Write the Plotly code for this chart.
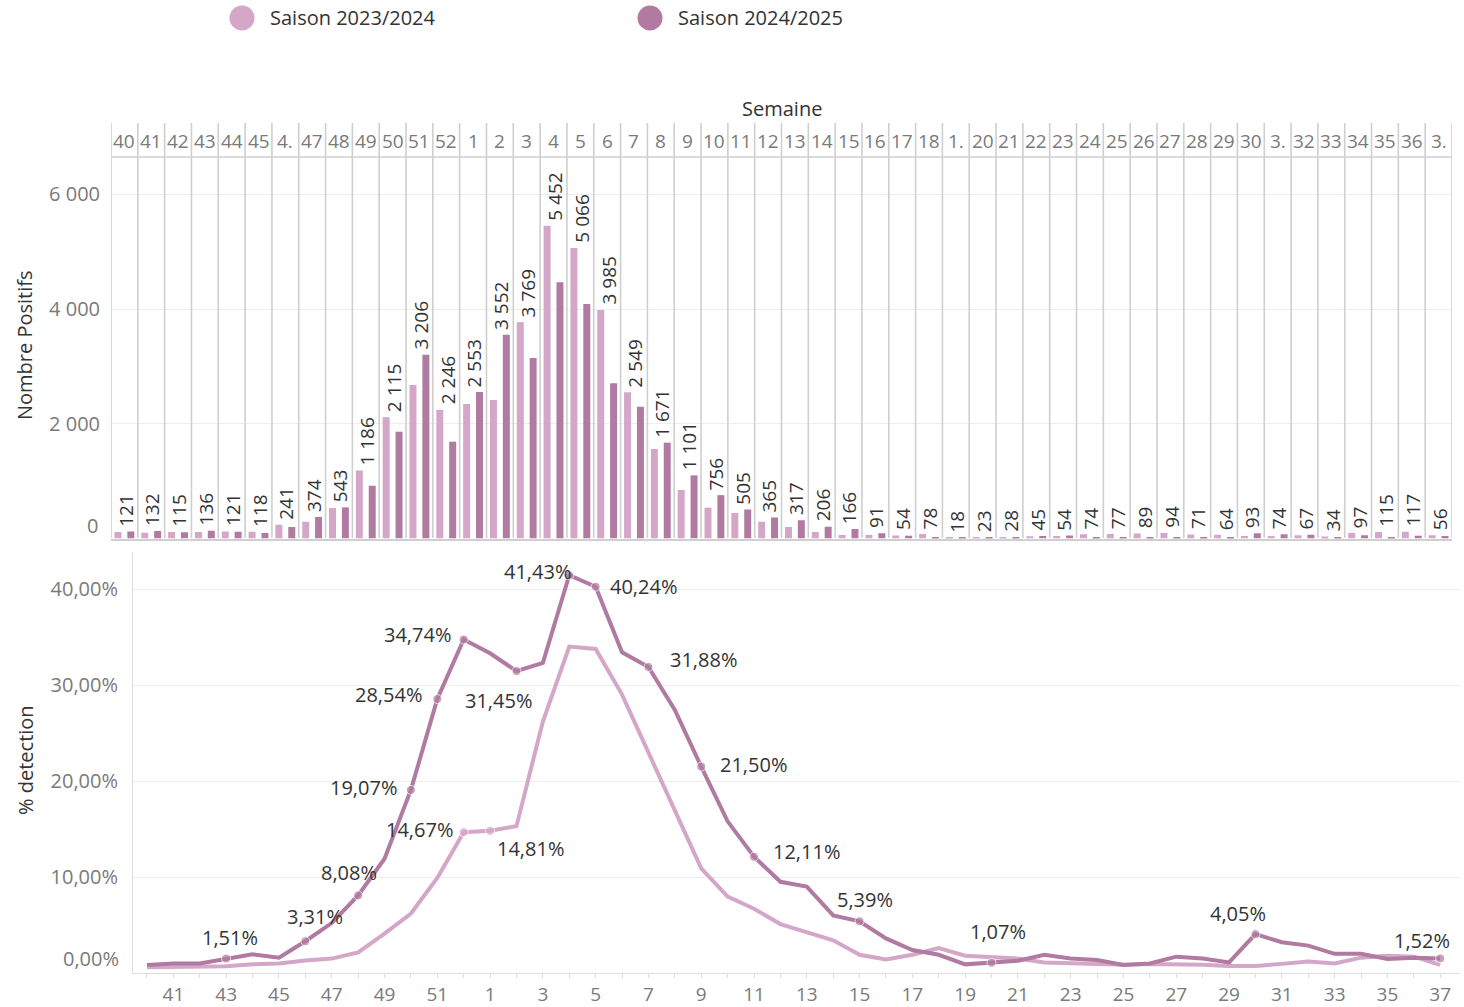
import plotly.graph_objects as go

W, H = 1464, 1007

# ---------------- data ----------------
weeks = [40, 41, 42, 43, 44, 45, 46, 47, 48, 49, 50, 51, 52,
         1, 2, 3, 4, 5, 6, 7, 8, 9, 10, 11, 12, 13, 14, 15, 16, 17, 18, 19, 20,
         21, 22, 23, 24, 25, 26, 27, 28, 29, 30, 31, 32, 33, 34, 35, 36, 37]

header_labels = ["40", "41", "42", "43", "44", "45", "4.", "47", "48", "49", "50", "51", "52",
                 "1", "2", "3", "4", "5", "6", "7", "8", "9", "10", "11", "12", "13", "14",
                 "15", "16", "17", "18", "1.", "20", "21", "22", "23", "24", "25", "26", "27",
                 "28", "29", "30", "3.", "32", "33", "34", "35", "36", "3."]

series_names = ["Saison 2023/2024", "Saison 2024/2025"]

positifs_2324 = [112, 100, 115, 112, 121, 118, 241, 290, 530, 1186, 2115, 2677, 2246,
                 2345, 2415, 3769, 5452, 5066, 3985, 2549, 1561, 846, 538, 444, 293, 200,
                 113, 61, 60, 54, 78, 18, 23, 28, 38, 45, 74, 77, 89, 94, 71, 64, 45, 45,
                 55, 34, 97, 115, 117, 56]

positifs_2425 = [121, 132, 110, 136, 116, 95, 200, 374, 543, 920, 1862, 3206, 1688,
                 2553, 3552, 3147, 4467, 4089, 2706, 2299, 1671, 1101, 756, 505, 365, 317,
                 206, 166, 91, 50, 20, 15, 10, 12, 45, 54, 15, 15, 15, 15, 15, 15, 93, 74,
                 67, 15, 55, 15, 50, 45]

detection_2324 = [0.6, 0.65, 0.7, 0.7, 0.9, 1.0, 1.3, 1.5, 2.15, 4.1, 6.2, 9.9, 14.67,
                  14.81, 15.3, 26.2, 34.0, 33.75, 29.0, 22.9, 16.8, 10.9, 7.95, 6.7, 5.1, 4.3,
                  3.4, 1.9, 1.4, 1.9, 2.6, 1.8, 1.6, 1.5, 1.1, 1.0, 1.0, 0.85, 0.95, 0.95,
                  0.85, 0.73, 0.73, 0.95, 1.2, 1.0, 1.6, 1.8, 1.7, 0.85]

detection_2425 = [0.83, 1.0, 1.0, 1.51, 1.94, 1.6, 3.31, 5.2, 8.08, 11.9, 19.07, 28.54, 34.74,
                  33.3, 31.45, 32.3, 41.43, 40.24, 33.4, 31.88, 27.4, 21.50, 15.8, 12.11, 9.5,
                  9.0, 6.0, 5.39, 3.6, 2.4, 1.9, 0.9, 1.07, 1.28, 1.9, 1.5, 1.35, 0.83, 1.0,
                  1.7, 1.5, 1.1, 4.05, 3.2, 2.85, 2.0, 2.0, 1.45, 1.6, 1.52]

# ---------------- style ----------------
C_LIGHT = "#d4a6c8"
C_DARK = "#b07aa1"
GRID = "#eeeeee"
RULE = "#cfcfcf"
TXT = "#333333"
TICK = "#7a7a7a"
FONT = "Open Sans"

# label placement (text-centre offset from the point, in screen px; +dy = down)
label_offsets_2425 = {43: (4, -21), 46: (10, -25), 48: (-9, -23), 50: (-47, -2),
                      51: (-49, -5), 52: (-46, -5), 2: (-18, 29), 4: (-32, -4),
                      5: (48, 0), 7: (55, -7), 9: (52, -2), 11: (52, -5),
                      15: (5, -22), 20: (6, -31), 30: (-17, -21), 37: (-18, -18)}
label_offsets_2324 = {52: (-44, -3), 1: (40, 18)}


def fx(px):
    return px / W


def fy(py):
    return 1 - py / H


def pct_txt(v):
    return f"{v:.2f}".replace(".", ",") + "%"


def thousands(v):
    return f"{v:,}".replace(",", " ")


idx = list(range(len(weeks)))

fig = go.Figure()

# ---------- bars ----------
fig.add_trace(go.Bar(x=idx, y=positifs_2324, width=0.26, offset=-0.37,
                     marker=dict(color=C_LIGHT, line=dict(width=0)),
                     xaxis="x", yaxis="y", name=series_names[0], showlegend=False))
fig.add_trace(go.Bar(x=idx, y=positifs_2425, width=0.26, offset=0.11,
                     marker=dict(color=C_DARK, line=dict(width=0)),
                     xaxis="x", yaxis="y", name=series_names[1], showlegend=False))

# ---------- lines ----------
sizes_2324 = [9 if w in label_offsets_2324 else 0 for w in weeks]
sizes_2425 = [9 if w in label_offsets_2425 else 0 for w in weeks]
fig.add_trace(go.Scatter(x=idx, y=detection_2324, mode="lines+markers",
                         line=dict(color=C_LIGHT, width=4),
                         marker=dict(size=sizes_2324, color=C_LIGHT),
                         xaxis="x2", yaxis="y2", showlegend=False, cliponaxis=False))
fig.add_trace(go.Scatter(x=idx, y=detection_2425, mode="lines+markers",
                         line=dict(color=C_DARK, width=4),
                         marker=dict(size=sizes_2425, color=C_DARK),
                         xaxis="x2", yaxis="y2", showlegend=False, cliponaxis=False))

ann = []
shapes = []

# bar value labels (max of the two seasons per week)
for i in idx:
    v = max(positifs_2324[i], positifs_2425[i])
    ann.append(dict(x=i + 0.05, y=v, xref="x", yref="y", text=thousands(v),
                    textangle=-90, showarrow=False, xanchor="center", yanchor="bottom",
                    yshift=3, font=dict(family=FONT, size=19, color=TXT)))

# line labels
for series, offs in ((detection_2425, label_offsets_2425), (detection_2324, label_offsets_2324)):
    for w, (dx, dy) in offs.items():
        i = weeks.index(w)
        ann.append(dict(x=i, y=series[i], xref="x2", yref="y2", text=pct_txt(series[i]),
                        showarrow=False, xanchor="center", yanchor="middle",
                        xshift=dx, yshift=-dy, font=dict(family=FONT, size=20, color=TXT)))

# header labels
for i, lab in enumerate(header_labels):
    ann.append(dict(x=i, y=fy(141), xref="x", yref="paper", text=lab, showarrow=False,
                    xanchor="center", yanchor="middle",
                    font=dict(family=FONT, size=19, color=TICK)))

# column separators
for k in range(len(weeks) + 1):
    shapes.append(dict(type="line", xref="x", yref="paper", x0=k - 0.5, x1=k - 0.5,
                       y0=fy(538), y1=fy(123), line=dict(color=RULE, width=1.6), layer="above"))
shapes.append(dict(type="line", xref="paper", yref="paper", x0=fx(111), x1=fx(1452),
                   y0=fy(157), y1=fy(157), line=dict(color=RULE, width=1.6)))

# titles
ann.append(dict(x=fx(782), y=fy(108), xref="paper", yref="paper", text="Semaine",
                xanchor="center", yanchor="middle",
                showarrow=False, font=dict(family=FONT, size=20, color=TXT)))
ann.append(dict(x=fx(25), y=fy(345), xref="paper", yref="paper", text="Nombre Positifs",
                xanchor="center", yanchor="middle",
                textangle=-90, showarrow=False, font=dict(family=FONT, size=20, color=TXT)))
ann.append(dict(x=fx(25), y=fy(760), xref="paper", yref="paper", text="% detection",
                xanchor="center", yanchor="middle",
                textangle=-90, showarrow=False, font=dict(family=FONT, size=20, color=TXT)))
# zero tick labels (drawn lifted as in the original)
ann.append(dict(x=fx(100), y=fy(525), xref="paper", yref="paper", text="0",
                showarrow=False, xanchor="right", yanchor="middle",
                font=dict(family=FONT, size=20, color=TICK)))
ann.append(dict(x=fx(121), y=fy(958), xref="paper", yref="paper", text="0,00%",
                showarrow=False, xanchor="right", yanchor="middle",
                font=dict(family=FONT, size=20, color=TICK)))

# legend
for name, col, cx in ((series_names[0], C_LIGHT, 242), (series_names[1], C_DARK, 650)):
    shapes.append(dict(type="circle", xref="paper", yref="paper",
                       x0=fx(cx - 12.5), x1=fx(cx + 12.5), y0=fy(30.5), y1=fy(5.5),
                       fillcolor=col, line=dict(width=0)))
    ann.append(dict(x=fx(cx + 26), y=fy(18), xref="paper", yref="paper", text=name,
                    showarrow=False, xanchor="left", yanchor="middle",
                    font=dict(family=FONT, size=20, color=TXT)))

odd_ticks = [str(w) if w % 2 == 1 else "" for w in weeks]

fig.update_layout(
    width=W, height=H, margin=dict(l=0, r=0, t=0, b=0),
    paper_bgcolor="white", plot_bgcolor="white", template="none",
    barmode="overlay", hovermode=False, showlegend=False,
    font=dict(family=FONT, size=18, color=TXT),
    xaxis=dict(domain=[fx(111), fx(1452)], range=[-0.5, len(weeks) - 0.5],
               showticklabels=False, ticks="", showgrid=False, zeroline=False,
               showline=True, linecolor=RULE, linewidth=1.5, anchor="y"),
    yaxis=dict(domain=[fy(538.5), fy(157)], range=[0, 6652], anchor="x",
               tickvals=[2000, 4000, 6000], ticktext=[thousands(v) for v in (2000, 4000, 6000)],
               tickfont=dict(family=FONT, size=20, color=TICK), ticks="",
               ticklabelstandoff=10, showgrid=True, gridcolor=GRID, gridwidth=1,
               zeroline=False, showline=False),
    xaxis2=dict(domain=[fx(133), fx(1460)], range=[-0.53, 49.75], anchor="y2",
                tickvals=idx, ticktext=odd_ticks, ticks="outside", ticklen=4,
                tickcolor="#dddddd", tickfont=dict(family=FONT, size=19, color=TICK),
                showgrid=False, zeroline=False, showline=True, linecolor="#dddddd",
                linewidth=1),
    yaxis2=dict(domain=[fy(973), fy(553)], range=[0, 43.75], anchor="x2",
                tickvals=[10, 20, 30, 40], ticktext=[pct_txt(v) for v in (10, 20, 30, 40)],
                tickfont=dict(family=FONT, size=20, color=TICK), ticks="",
                ticklabelstandoff=10, showgrid=True, gridcolor=GRID, gridwidth=1,
                zeroline=False, showline=True, linecolor="#dddddd", linewidth=1),
    annotations=ann, shapes=shapes,
)

fig.write_html("out.html", config={"displayModeBar": False},
               post_script="document.body.style.margin='0';document.body.style.overflow='hidden';")
